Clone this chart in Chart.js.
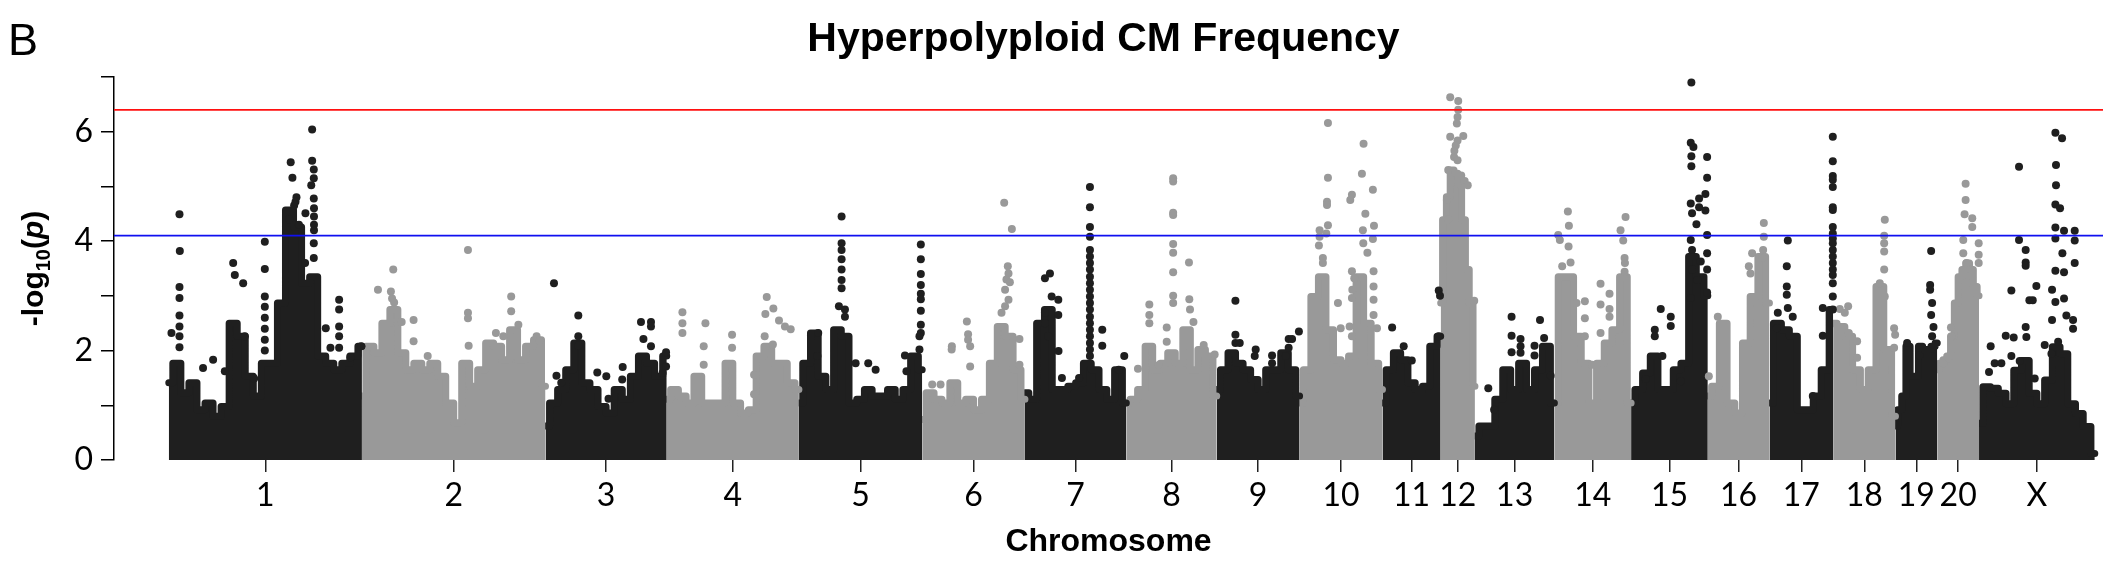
<!DOCTYPE html>
<html>
<head>
<meta charset="utf-8">
<script src="https://cdn.jsdelivr.net/npm/chart.js@4.4.1/dist/chart.umd.min.js"></script>
<style>
  html, body { margin: 0; padding: 0; background: #fff; }
</style>
</head>
<body>
<canvas id="manhattan" width="2108" height="570"></canvas>
<script>
const panelLabel = 'B';
const chartTitle = 'Hyperpolyploid CM Frequency';
const xTitle = 'Chromosome';

const chromosomes = ['1', '2', '3', '4', '5', '6', '7', '8', '9', '10', '11', '12', '13', '14', '15', '16', '17', '18', '19', '20', 'X'];
// chromosome lengths (Mb)
const chromLengths = [282, 268, 177, 193, 180, 150, 148, 132, 121, 121, 85, 50, 116, 112, 112, 90, 93, 91, 61, 61, 169];

const significanceLine = 6.4;
const suggestiveLine = 4.1;
const yTickLabels = [0, 2, 4, 6];

// top of the dense band of markers, sampled evenly along each chromosome
const envelopeTops = [
  [1.41, 1.77, 1.23, 1.41, 0.92, 1.04, 0.80, 0.98, 2.50, 2.26, 1.53, 1.17, 1.77, 1.77, 2.87, 4.57, 4.26, 3.23, 3.35, 1.90, 1.77, 1.65, 1.77, 1.90, 2.08],
  [1.17, 2.08, 1.96, 2.50, 2.75, 1.96, 1.65, 1.77, 1.65, 1.77, 1.53, 1.04, 0.68, 1.77, 1.35, 1.65, 2.14, 2.08, 1.83, 2.38, 1.83, 2.08, 2.20, 1.35],
  [0.62, 1.04, 1.29, 1.65, 2.14, 1.41, 1.29, 0.98, 0.86, 1.29, 1.11, 1.53, 1.90, 1.77, 1.53, 1.90],
  [1.11, 1.29, 1.17, 1.04, 1.53, 1.04, 1.04, 1.04, 1.77, 1.04, 0.86, 0.92, 1.90, 2.08, 1.77, 1.77, 1.41, 1.29],
  [1.04, 1.77, 2.32, 1.53, 1.29, 2.38, 2.26, 1.04, 1.11, 1.29, 1.17, 1.17, 1.29, 1.11, 1.29, 1.90, 1.65],
  [0.74, 1.23, 1.11, 1.04, 1.41, 1.04, 1.11, 0.92, 1.11, 1.77, 2.44, 2.26, 1.65, 1.11],
  [1.23, 1.11, 2.50, 2.75, 1.29, 1.29, 1.35, 1.41, 1.77, 1.65, 1.29, 1.11, 1.65, 1.04],
  [1.04, 1.11, 1.29, 2.08, 1.65, 1.77, 1.96, 1.77, 2.38, 1.65, 2.02, 1.90, 1.17],
  [1.29, 1.65, 1.96, 1.77, 1.65, 1.47, 1.29, 1.65, 1.65, 1.96, 1.65, 1.17],
  [1.04, 1.65, 2.99, 3.35, 2.38, 1.83, 1.77, 1.90, 3.35, 2.50, 1.77, 1.29],
  [1.04, 1.65, 1.96, 1.83, 1.41, 1.29, 1.35, 2.08, 2.26],
  [2.87, 4.39, 4.81, 5.30, 5.24, 5.05, 4.39, 3.48, 2.87, 1.35],
  [0.44, 0.62, 0.62, 1.11, 1.65, 1.29, 1.77, 1.29, 1.65, 2.08, 1.04],
  [1.04, 3.35, 3.35, 2.26, 1.77, 1.04, 1.77, 2.14, 2.38, 3.35, 1.04],
  [1.04, 1.29, 1.59, 1.90, 1.29, 1.29, 1.65, 1.77, 3.72, 3.35, 3.00],
  [1.17, 1.35, 2.50, 1.04, 0.86, 2.14, 2.99, 3.72, 2.87],
  [1.04, 2.50, 2.38, 2.26, 0.92, 0.92, 1.17, 1.65, 2.75],
  [2.50, 2.44, 2.26, 1.65, 1.29, 1.65, 3.17, 2.02, 0.80],
  [0.62, 0.92, 1.17, 2.08, 1.53, 1.53, 2.08, 2.02, 2.02, 2.08, 2.14],
  [1.65, 1.77, 1.83, 1.90, 2.26, 2.87, 3.35, 3.48, 3.60, 3.48, 3.17, 3.00],
  [0.67, 1.34, 1.31, 1.22, 1.03, 1.64, 1.82, 1.22, 1.03, 1.46, 2.07, 1.94, 1.03, 0.85, 0.61, 0.12]
];

// isolated markers above the band: [position within chromosome (Mb), -log10(p)]
const topHits = [
  [[15.6, 4.49], [16.1, 3.82], [15.6, 3.16], [15.6, 2.96], [15.6, 2.64], [15.6, 2.44], [3.9, 2.32], [15.6, 2.26], [15.6, 2.06],
   [50, 1.68], [64.7, 1.83], [81.8, 1.62], [94, 3.60], [96.4, 3.38], [108.6, 3.23], [111, 2.26], [124.6, 1.49],
   [140.2, 3.99], [140.2, 3.49], [140.2, 2.99], [140.2, 2.8], [140.2, 2.6], [140.2, 2.4], [140.2, 2.2], [140.2, 2.0],
   [178, 5.44], [180.5, 5.16], [186.4, 4.80], [183, 4.65], [185, 4.72], [176, 4.40], [190, 4.30], [199.5, 4.51],
   [209.3, 6.04], [209.3, 5.47], [211.7, 5.31], [211.7, 5.15], [208, 5.02], [211.7, 4.78], [212, 4.60], [212, 4.45], [212, 4.30],
   [212, 4.20], [211.7, 3.96], [211.7, 3.69], [199, 3.60], [229.2, 2.41], [248.7, 2.93], [248.7, 2.75], [248.7, 2.44],
   [248.7, 2.26], [248.7, 2.05], [236, 2.05], [265.2, 1.88], [281, 2.08]],
  [[45.7, 3.48], [44, 2.95], [47, 2.88], [23.4, 3.11], [42.3, 3.08], [58, 2.52], [75.4, 2.56], [154.8, 3.84], [154.8, 2.69],
   [154.8, 2.59], [155.8, 2.09], [75.4, 2.17], [96, 1.90], [217.9, 2.99], [217.9, 2.72], [228.4, 2.47], [195.6, 2.32],
   [206.4, 2.26], [255, 2.26], [259, 2.17]],
  [[12.4, 3.23], [47.9, 2.64], [47.9, 2.26], [47.9, 2.09], [16, 1.54], [23, 1.41], [75.6, 1.60], [88.8, 1.53], [92, 1.12],
   [112.7, 1.70], [112, 1.47], [139.4, 2.52], [154, 2.52], [154, 2.44], [143, 2.21], [154, 2.08], [176, 1.97], [176, 1.71], [171, 1.59]],
  [[22.9, 2.70], [22.9, 2.50], [22.9, 2.32], [56.5, 2.50], [54, 2.08], [54, 1.74], [95.4, 2.29], [95.4, 2.05], [127.5, 1.56],
   [127.5, 1.20], [146, 2.98], [155.7, 2.77], [144, 2.67], [163.9, 2.55], [172.6, 2.44], [181, 2.39], [143, 2.26], [155, 2.11]],
  [[62.3, 4.45], [62.3, 3.96], [62.3, 3.84], [62.3, 3.67], [62.3, 3.48], [62.3, 3.29], [62.3, 3.14], [58.4, 2.81], [67.2, 2.75],
   [67.2, 2.62], [178, 3.94], [178, 3.67], [178, 3.40], [178, 3.20], [178, 3.04], [178, 2.94], [178, 2.73], [178, 2.47],
   [178, 2.32], [176, 2.26], [176, 2.02], [82.8, 1.77], [101.2, 1.77], [112, 1.65], [154.8, 1.91], [157, 1.62], [28.2, 2.32], [27, 1.90]],
  [[119.7, 4.70], [130.9, 4.22], [125, 3.54], [126, 3.41], [123, 3.30], [128, 3.25], [121, 3.11], [126, 2.93], [121, 2.81],
   [115.8, 2.69], [65.2, 2.53], [67, 2.30], [67, 2.20], [43.3, 2.08], [43, 2.02], [70, 2.08], [70, 1.71], [14.6, 1.38],
   [26.8, 1.38], [142, 2.21], [142, 1.74]],
  [[94.9, 4.99], [94.9, 4.62], [94.9, 4.26], [94.9, 4.08], [94.9, 3.84], [94.9, 3.72], [94.9, 3.60], [94.9, 3.48], [94.9, 3.35],
   [94.9, 3.23], [94.9, 3.11], [94.9, 2.99], [94.9, 2.87], [94.9, 2.75], [94.9, 2.62], [94.9, 2.50], [94.9, 2.38], [94.9, 2.26],
   [94.9, 2.14], [94.9, 2.02], [94.9, 1.90], [36.5, 3.41], [29.2, 3.32], [39, 2.99], [48.7, 2.93], [48.7, 2.65], [29.2, 2.69],
   [29.2, 2.50], [34, 2.26], [112.9, 2.38], [112.9, 2.09], [145, 1.90], [137, 1.65], [49, 1.99], [79, 1.50], [54, 1.50]],
  [[68.4, 5.15], [68.4, 5.09], [68.4, 4.52], [68.4, 4.48], [68.4, 3.95], [68.4, 3.79], [68.4, 3.43], [68.4, 3.00], [68.4, 2.87],
   [91.5, 3.61], [92, 2.94], [93, 2.75], [98, 2.52], [33.6, 2.84], [33.6, 2.65], [33.6, 2.50], [59, 2.42], [59, 2.16],
   [113, 2.10], [129, 1.93], [17, 1.67], [47, 1.73]],
  [[27.3, 2.91], [27.3, 2.29], [27.3, 2.14], [33.6, 2.14], [56.9, 2.02], [55.5, 1.90], [80.8, 1.91], [80.8, 1.77], [105.1, 2.21],
   [110, 2.21], [120, 2.35], [105, 2.05], [101, 1.90]],
  [[41.4, 6.16], [41.4, 5.16], [40, 4.72], [40, 4.66], [41.4, 4.29], [29.2, 4.20], [39, 4.14], [29.2, 4.08], [28.2, 3.92],
   [34, 3.69], [34, 3.60], [93.4, 5.78], [91, 5.23], [107, 4.94], [76.4, 4.85], [74, 4.75], [96, 4.50], [108.6, 4.28],
   [92.4, 4.20], [107, 4.04], [93, 3.96], [99, 3.79], [76.4, 3.45], [79.8, 3.32], [108, 3.45], [77, 3.11], [76.4, 2.96],
   [108, 3.17], [108, 2.93], [108, 2.65], [56, 2.87], [60, 2.41], [73, 2.44], [76.4, 2.26], [113, 2.41]],
  [[14.1, 2.42], [31, 2.08], [42.8, 1.82], [82.2, 3.10], [84, 3.00], [82.2, 2.26]],
  [[13.9, 6.63], [25.6, 6.56], [25.6, 6.40], [24.6, 6.27], [23.6, 6.15], [13.9, 5.91], [24.6, 5.84], [33, 5.92], [22, 5.75],
   [20, 5.65], [19.5, 5.54], [24.6, 5.48], [11, 5.30], [30, 5.20], [35, 5.10], [39.5, 5.02], [9, 4.75], [11, 4.39], [49, 2.91]],
  [[53.5, 2.62], [53.5, 2.27], [53.5, 1.97], [66.6, 2.21], [66.6, 2.08], [66.6, 1.96], [95, 2.56], [87, 2.09], [87, 1.91],
   [101, 2.23], [110.6, 1.54], [19.5, 1.31], [28, 0.92]],
  [[19.7, 4.54], [21.2, 4.28], [5.6, 4.11], [8, 4.02], [20.7, 3.90], [23.6, 3.61], [11.4, 3.54], [44.5, 2.90], [44.5, 2.59],
   [44.5, 2.26], [32.3, 2.87], [103.9, 4.44], [96.6, 4.20], [100.5, 4.01], [102.5, 3.69], [103, 3.60], [102.5, 3.44],
   [67.4, 3.22], [67.4, 2.84], [80.5, 3.04], [80.5, 2.76], [80.5, 2.62], [55, 1.74], [67.4, 2.32]],
  [[88, 6.90], [87.1, 5.80], [91, 5.72], [88, 5.55], [88, 5.37], [111, 5.54], [111, 5.16], [108.5, 4.86], [87.1, 4.69],
   [99.3, 4.78], [89, 4.51], [99.3, 4.62], [108.5, 4.56], [95.4, 4.31], [111, 4.11], [87.1, 4.02], [89, 3.84], [111, 3.78],
   [101.7, 3.63], [89, 3.48], [111, 3.48], [96.8, 3.29], [111, 3.06], [87.1, 2.96], [43.3, 2.76], [57.9, 2.62], [57.9, 2.45],
   [34.6, 2.38], [34.6, 2.26], [45.7, 1.90], [21.4, 1.48], [72.5, 1.44]],
  [[14.6, 2.62], [1.5, 1.53], [59.9, 3.54], [62.3, 3.41], [64.7, 3.78], [81.8, 4.33], [81.8, 4.08], [80.8, 3.84], [79.3, 3.69]],
  [[26.8, 4.01], [25.3, 3.54], [25.3, 3.17], [25.3, 3.02], [26.8, 2.78], [12.2, 2.69], [34, 2.62], [10.7, 2.41], [63.3, 1.17],
   [77.9, 2.78], [77.9, 2.27], [92.5, 5.91], [92.5, 5.46], [92.5, 5.19], [92.5, 5.12], [92.5, 4.99], [92.5, 4.62], [92.5, 4.57],
   [92.5, 4.26], [92.5, 4.14], [92.5, 4.05], [92.5, 3.96], [92.5, 3.84], [92.5, 3.72], [92.5, 3.60], [92.5, 3.48], [92.5, 3.38],
   [92.5, 3.23], [92.5, 2.99], [92.5, 2.75]],
  [[9.7, 2.76], [21.9, 2.81], [17, 2.69], [22.9, 2.32], [35, 2.17], [35, 1.87], [75.4, 4.39], [74.5, 4.10], [74.5, 3.96],
   [74.5, 3.81], [74.5, 3.48], [68.1, 3.23], [75.4, 2.99], [89, 2.41], [90.5, 2.29], [89, 2.05]],
  [[52.1, 3.82], [50.6, 3.20], [50.6, 3.11], [53.5, 2.87], [52.1, 2.65], [55.5, 2.43], [53.5, 2.26], [17, 2.14], [35, 1.91]],
  [[41.4, 5.05], [41.4, 4.75], [39.9, 4.49], [51.1, 4.42], [51.1, 4.26], [38, 4.02], [60.5, 3.96], [60.5, 3.75], [38, 3.78],
   [42.8, 3.60], [60.5, 3.60], [20, 2.42], [21, 2.26], [8.7, 1.77]],
  [[58.4, 5.36], [58.4, 4.02], [68.1, 3.84], [68.1, 3.61], [68.1, 3.55], [47.2, 3.10], [83.7, 3.18], [73.5, 2.92], [78.4, 2.92],
   [39, 2.27], [50.6, 2.24], [68.1, 2.43], [69.1, 2.25], [17, 2.08], [22.9, 1.77], [32.6, 1.77], [47.2, 1.90], [59.4, 1.81],
   [14.6, 1.61], [81.3, 1.49], [95.9, 2.10], [111.5, 5.98], [121.2, 5.88], [112.4, 5.39], [112.4, 5.02], [111.5, 4.67],
   [118.3, 4.60], [111.5, 4.25], [111.5, 4.05], [124.1, 4.19], [139.7, 4.19], [139.7, 4.01], [121.7, 3.78], [139.7, 3.60],
   [111.5, 3.46], [124.1, 3.43], [106.6, 3.11], [111.5, 2.89], [124.1, 2.95], [127.5, 2.64], [137.3, 2.56], [106.6, 2.56],
   [137.3, 2.40], [115.5, 2.16], [105.7, 1.94]]
];

const BLACK = '#1f1f1f';
const GREY = '#999999';
const FONT_SANS = '"Liberation Sans", Arial, sans-serif';
const FONT_TICKS = 'Lato, "Open Sans", sans-serif';

// cumulative genome coordinates
const chromStarts = [];
let genomeEnd = 0;
chromLengths.forEach(len => { chromStarts.push(genomeEnd); genomeEnd += len; });
const chromCenters = chromLengths.map((len, i) => chromStarts[i] + len / 2);
const xMin = -80;
const xMax = genomeEnd + 12;

const datasets = [];
chromosomes.forEach((name, i) => {
  const color = i % 2 === 0 ? BLACK : GREY;
  const tops = envelopeTops[i];
  const n = tops.length;
  datasets.push({
    label: 'chr' + name + ' band',
    data: tops.map((v, k) => ({ x: chromStarts[i] + chromLengths[i] * k / (n - 1), y: v })),
    borderColor: color,
    backgroundColor: color,
    borderWidth: 7,
    borderJoinStyle: 'round',
    borderCapStyle: 'round',
    stepped: 'middle',
    fill: 'origin',
    pointRadius: 0,
    clip: 0,
    order: 2
  });
  datasets.push({
    label: 'chr' + name,
    data: topHits[i].map(([pos, v]) => ({ x: chromStarts[i] + Math.min(pos, chromLengths[i]), y: v })),
    showLine: false,
    backgroundColor: color,
    borderWidth: 0,
    pointRadius: 4,
    pointBorderWidth: 0,
    clip: 0,
    order: 1
  });
});

datasets.push({
  label: 'significance',
  data: [{ x: xMin, y: significanceLine }, { x: xMax, y: significanceLine }],
  borderColor: '#ff1010',
  borderWidth: 1.6,
  pointRadius: 0,
  fill: false,
  order: 0
});
datasets.push({
  label: 'suggestive',
  data: [{ x: xMin, y: suggestiveLine }, { x: xMax, y: suggestiveLine }],
  borderColor: '#1010f0',
  borderWidth: 1.6,
  pointRadius: 0,
  fill: false,
  order: 0
});

const panelText = {
  id: 'panelText',
  afterDraw(chart) {
    const { ctx, chartArea } = chart;
    ctx.save();
    ctx.fillStyle = '#000';
    ctx.textBaseline = 'alphabetic';

    ctx.textAlign = 'left';
    ctx.font = '45px ' + FONT_SANS;
    ctx.fillText(panelLabel, 8, 55);

    ctx.textAlign = 'center';
    ctx.font = 'bold 41px ' + FONT_SANS;
    ctx.fillText(chartTitle, (chartArea.left + chartArea.right) / 2 - 5, 51);

    // y axis title: -log10(p) with subscript and italic p
    const parts = [
      { t: '-log', f: 'bold 30px ' + FONT_SANS, dy: 0 },
      { t: '10', f: 'bold 20px ' + FONT_SANS, dy: 7 },
      { t: '(', f: 'bold 30px ' + FONT_SANS, dy: 0 },
      { t: 'p', f: 'italic bold 30px ' + FONT_SANS, dy: 0 },
      { t: ')', f: 'bold 30px ' + FONT_SANS, dy: 0 }
    ];
    let total = 0;
    parts.forEach(p => { ctx.font = p.f; p.w = ctx.measureText(p.t).width; total += p.w; });
    ctx.translate(43, (chartArea.top + chartArea.bottom) / 2);
    ctx.rotate(-Math.PI / 2);
    ctx.textAlign = 'left';
    let x = -total / 2;
    parts.forEach(p => { ctx.font = p.f; ctx.fillText(p.t, x, p.dy); x += p.w; });
    ctx.restore();
  }
};

new Chart(document.getElementById('manhattan'), {
  type: 'line',
  data: { datasets },
  options: {
    responsive: false,
    animation: false,
    devicePixelRatio: 1,
    events: [],
    layout: { padding: { top: 77, right: 5, bottom: 0, left: 0 } },
    scales: {
      x: {
        type: 'linear',
        min: xMin,
        max: xMax,
        afterBuildTicks: scale => { scale.ticks = chromCenters.map(v => ({ value: v })); },
        afterFit: scale => { scale.height = 110; },
        ticks: {
          autoSkip: false,
          maxRotation: 0,
          padding: 4,
          color: '#000',
          font: { family: FONT_TICKS, size: 32 },
          callback: (value, index) => chromosomes[index]
        },
        grid: { drawOnChartArea: false, drawTicks: true, tickLength: 12, color: '#222', lineWidth: 1.5 },
        border: { display: false },
        title: {
          display: true,
          text: xTitle,
          color: '#000',
          font: { family: FONT_SANS, size: 32, weight: 'bold' },
          padding: { top: 0, bottom: 9 }
        }
      },
      y: {
        min: 0,
        max: 7,
        afterFit: scale => { scale.width = 114; },
        ticks: {
          stepSize: 1,
          padding: 8,
          color: '#000',
          font: { family: FONT_TICKS, size: 32 },
          callback: v => (yTickLabels.includes(v) ? String(v) : '')
        },
        grid: { drawOnChartArea: false, drawTicks: true, tickLength: 13, color: '#000', lineWidth: 1.5 },
        border: { display: true, color: '#000', width: 1.5 }
      }
    },
    plugins: {
      legend: { display: false },
      tooltip: { enabled: false }
    }
  },
  plugins: [panelText]
});
</script>
</body>
</html>
